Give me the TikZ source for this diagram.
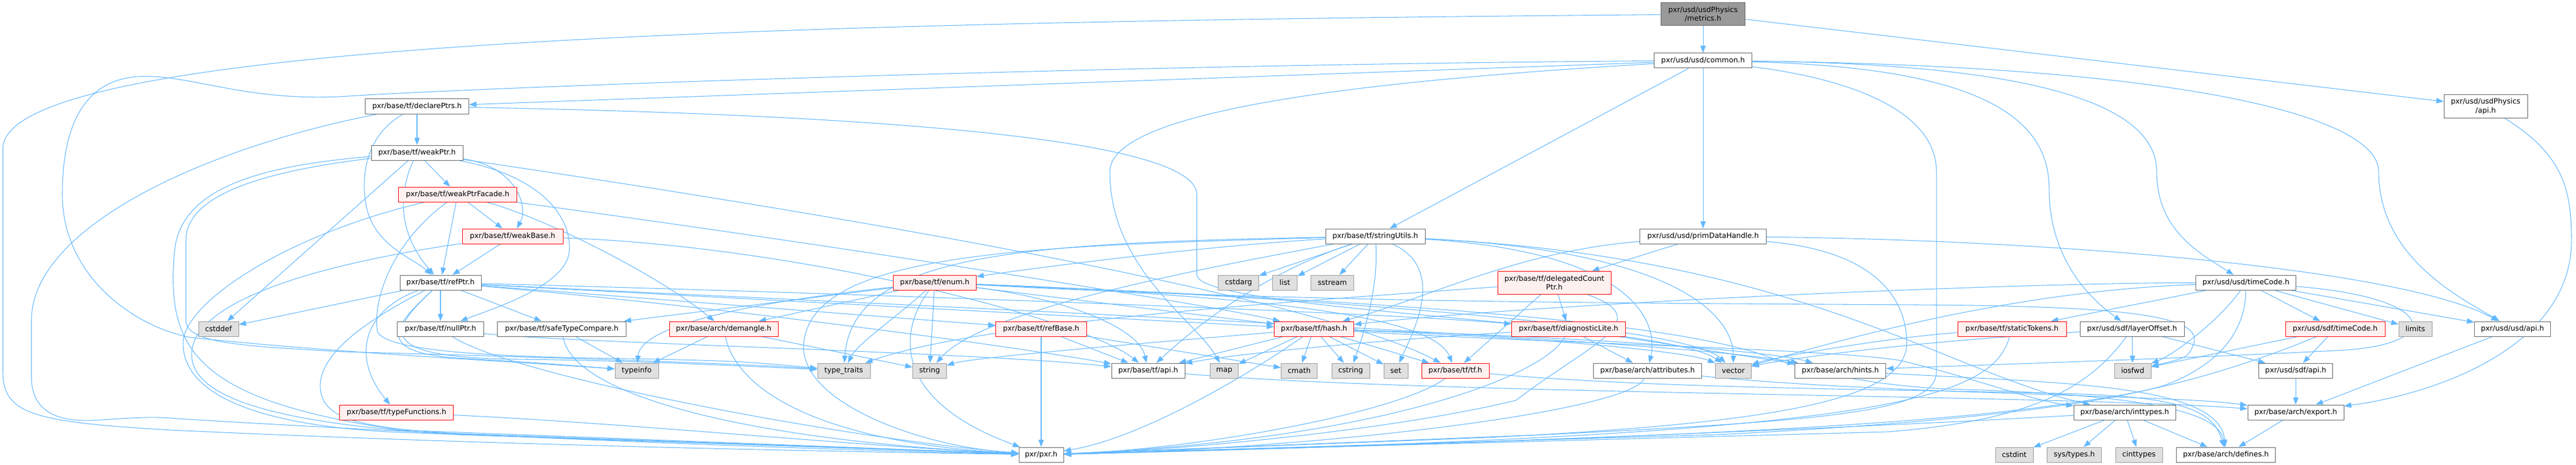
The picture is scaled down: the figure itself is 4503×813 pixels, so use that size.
\documentclass[tikz,border=0pt]{standalone}
\usepackage{fontspec}
\setmainfont{DejaVu Sans}
\usetikzlibrary{arrows.meta,backgrounds}
\definecolor{edgecol}{HTML}{63B8FF}
\definecolor{nodebd}{HTML}{666666}
\definecolor{graybd}{HTML}{999999}
\definecolor{grayfill}{HTML}{E0E0E0}
\definecolor{redbd}{HTML}{FF0000}
\definecolor{redfill}{HTML}{FFF0F0}
\definecolor{rootfill}{HTML}{999999}
\tikzset{
  nd/.style={draw=nodebd, fill=white, line width=0.75pt, minimum height=19.5pt, inner sep=0pt,
    font=\fontsize{9.5}{11.5}\selectfont, text=black},
  rd/.style={nd, draw=redbd, fill=redfill},
  gd/.style={nd, draw=graybd, fill=grayfill},
  rootnd/.style={nd, fill=rootfill, draw=nodebd},
  two/.style={minimum height=30pt, align=center},
  wd/.style={minimum width=#1*0.75pt},
  e/.style={draw=edgecol, line width=0.8pt, -{Triangle[length=9.5pt,width=7pt]}}
}
\begin{document}
\begin{tikzpicture}[x=0.75pt, y=-0.75pt]
\useasboundingbox (0,0) rectangle (4503,813);
% ---------- nodes ----------
\node[rootnd, two, wd=147] (M) at (2977,25) {pxr/usd/usdPhysics\\/metrics.h};
\node[nd, wd=171] (C) at (2977,106) {pxr/usd/usd/common.h};
\node[nd, wd=181] (D) at (729,186) {pxr/base/tf/declarePtrs.h};
\node[nd, two, wd=146] (UP) at (4345,186) {pxr/usd/usdPhysics\\/api.h};
\node[nd, wd=160] (WP) at (729,267) {pxr/base/tf/weakPtr.h};
\node[rd, wd=207] (WF) at (800,340) {pxr/base/tf/weakPtrFacade.h};
\node[rd, wd=176] (WB) at (896,413) {pxr/base/tf/weakBase.h};
\node[nd, wd=174] (SU) at (2404,413) {pxr/base/tf/stringUtils.h};
\node[nd, wd=221] (PD) at (2977,413) {pxr/usd/usd/primDataHandle.h};
\node[nd, wd=142] (RP) at (770,494) {pxr/base/tf/refPtr.h};
\node[rd, wd=145] (EN) at (1634,494) {pxr/base/tf/enum.h};
\node[gd, wd=71] (CA) at (2165,494) {cstdarg};
\node[gd, wd=43] (LI) at (2246,494) {list};
\node[gd, wd=75] (SS) at (2329,494) {sstream};
\node[rd, two, wd=198] (DC) at (2717,494) {pxr/base/tf/delegatedCount\\Ptr.h};
\node[nd, wd=175] (TC) at (3926,494) {pxr/usd/usd/timeCode.h};
\node[gd, wd=70] (CD) at (382,575) {cstddef};
\node[nd, wd=151] (NP) at (770,575) {pxr/base/tf/nullPtr.h};
\node[nd, wd=225] (ST) at (982,575) {pxr/base/tf/safeTypeCompare.h};
\node[rd, wd=190] (DM) at (1265,575) {pxr/base/arch/demangle.h};
\node[rd, wd=159] (RB) at (1820,575) {pxr/base/tf/refBase.h};
\node[rd, wd=139] (HA) at (2297,575) {pxr/base/tf/hash.h};
\node[rd, wd=199] (DL) at (2742,575) {pxr/base/tf/diagnosticLite.h};
\node[rd, wd=190] (TK) at (3517,575) {pxr/base/tf/staticTokens.h};
\node[nd, wd=182] (LO) at (3727,575) {pxr/usd/sdf/layerOffset.h};
\node[rd, wd=174] (STC) at (4082,575) {pxr/usd/sdf/timeCode.h};
\node[gd, wd=58] (LM) at (4222,575) {limits};
\node[nd, wd=133] (UA) at (4392,575) {pxr/usd/usd/api.h};
\node[gd, wd=76] (TI) at (1113,648) {typeinfo};
\node[gd, wd=92] (TT) at (1475,648) {type\_traits};
\node[gd, wd=59] (STR) at (1625,648) {string};
\node[nd, wd=128] (TA) at (2007,648) {pxr/base/tf/api.h};
\node[gd, wd=49] (MP) at (2140,648) {map};
\node[gd, wd=63] (CM) at (2271,648) {cmath};
\node[gd, wd=66] (CS) at (2361,648) {cstring};
\node[gd, wd=42] (SE) at (2440,648) {set};
\node[rd, wd=118] (TF) at (2544,648) {pxr/base/tf/tf.h};
\node[nd, wd=189] (AT) at (2880,648) {pxr/base/arch/attributes.h};
\node[gd, wd=63] (VE) at (3030,648) {vector};
\node[nd, wd=159] (HI) at (3217,648) {pxr/base/arch/hints.h};
\node[gd, wd=64] (IO) at (3728,648) {iosfwd};
\node[nd, wd=129] (SA) at (4013,648) {pxr/usd/sdf/api.h};
\node[rd, wd=199] (TFN) at (693,721) {pxr/base/tf/typeFunctions.h};
\node[nd, wd=178] (IT) at (3714,721) {pxr/base/arch/inttypes.h};
\node[nd, wd=168] (EX) at (4013,721) {pxr/base/arch/export.h};
\node[nd, wd=78] (P) at (1820,795) {pxr/pxr.h};
\node[gd, wd=66] (CI) at (3521,795) {cstdint};
\node[gd, wd=95] (SY) at (3626,795) {sys/types.h};
\node[gd, wd=82] (CT) at (3739,795) {cinttypes};
\node[nd, wd=173] (DF) at (3891,795) {pxr/base/arch/defines.h};
% ---------- edges ----------
\begin{pgfonlayer}{background}
% metrics.h
\draw[e] (M) -- (C);
\draw[e] (M) -- (UP);
\draw[e] (M) .. controls (1400,38) and (5,70) .. (5,260) -- (5,650) .. controls (5,725) and (60,738) .. (300,752) .. controls (900,780) and (1500,790) .. (P);
% usdPhysics/api.h
\draw[e] (UP) .. controls (4480,270) and (4495,330) .. (4495,420) .. controls (4495,610) and (4250,690) .. (EX);
% common.h
\draw[e] (C) -- (D);
\draw[e] (C) .. controls (2000,112) and (900,150) .. (609,168) .. controls (430,180) and (330,128) .. (240,134) .. controls (130,142) and (109,250) .. (109,340) .. controls (109,480) and (230,570) .. (333,590) .. controls (600,618) and (900,632) .. (TI);
\draw[e] (C) .. controls (2500,135) and (1940,180) .. (1940,300) .. controls (1940,470) and (2090,560) .. (MP);
\draw[e] (C) -- (SU);
\draw[e] (C) -- (PD);
\draw[e] (C) .. controls (3250,140) and (3385,200) .. (3385,300) -- (3385,650) .. controls (3385,720) and (3200,735) .. (2700,760) -- (P);
\draw[e] (C) .. controls (3450,118) and (3582,200) .. (3582,330) .. controls (3582,450) and (3650,520) .. (LO);
\draw[e] (C) .. controls (3550,112) and (3770,180) .. (3770,300) .. controls (3770,400) and (3840,440) .. (TC);
\draw[e] (C) .. controls (3800,115) and (4158,200) .. (4158,300) .. controls (4158,450) and (4300,520) .. (UA);
% declarePtrs.h
\draw[e] (D) -- (WP);
\draw[e] (D) .. controls (650,230) and (628,290) .. (640,360) .. controls (655,430) and (720,450) .. (RP);
\draw[e] (D) .. controls (350,260) and (55,400) .. (55,560) -- (55,660) .. controls (55,725) and (110,737) .. (160,735) .. controls (220,732) and (260,727) .. (310,732) .. controls (900,768) and (1500,788) .. (P);
\draw[e] (D) .. controls (1500,200) and (2092,240) .. (2092,340) -- (2092,480) .. controls (2092,545) and (2900,560) .. (VE);
% weakPtr.h
\draw[e] (WP) -- (WF);
\draw[e] (WP) .. controls (900,290) and (925,360) .. (WB);
\draw[e] (WP) .. controls (700,330) and (690,400) .. (RP);
\draw[e] (WP) -- (CD);
\draw[e] (WP) .. controls (960,310) and (1000,390) .. (995,440) .. controls (990,500) and (860,540) .. (NP);
\draw[e] (WP) .. controls (450,290) and (315,330) .. (305,440) .. controls (290,610) and (340,700) .. (700,752) -- (P);
\draw[e] (WP) .. controls (500,295) and (325,330) .. (325,420) -- (325,560) .. controls (325,600) and (420,605) .. (600,615) .. controls (1000,626) and (1300,636) .. (TT);
\draw[e] (WP) .. controls (1500,380) and (2300,520) .. (TF);
% weakPtrFacade.h
\draw[e] (WF) -- (WB);
\draw[e] (WF) -- (RP);
\draw[e] (WF) .. controls (690,420) and (650,520) .. (660,580) .. controls (680,625) and (1000,625) .. (1150,628) .. controls (1300,632) .. (TT);
\draw[e] (WF) .. controls (950,380) and (1150,480) .. (DM);
\draw[e] (WF) .. controls (1400,420) and (2100,530) .. (HA);
\draw[e] (WF) .. controls (500,410) and (320,530) .. (320,600) .. controls (320,690) and (450,745) .. (700,756) -- (P);
% weakBase.h
\draw[e] (WB) -- (RP);
\draw[e] (WB) .. controls (500,470) and (335,540) .. (335,620) .. controls (335,700) and (500,742) .. (800,760) -- (P);
\draw[e] (WB) .. controls (1400,430) and (1900,560) .. (TA);
% refPtr.h
\draw[e] (RP) -- (CD);
\draw[e] (RP) -- (NP);
\draw[e] (RP) -- (ST);
\draw[e] (RP) .. controls (640,540) and (610,620) .. (TFN);
\draw[e] (RP) .. controls (700,560) and (640,615) .. (800,626) .. controls (950,635) .. (TI);
\draw[e] (RP) .. controls (690,570) and (640,625) .. (900,628) .. controls (1100,630) and (1300,640) .. (TT);
\draw[e] (RP) .. controls (640,560) and (555,620) .. (560,680) .. controls (565,730) and (620,748) .. (800,758) -- (P);
\draw[e] (RP) .. controls (1400,510) and (2400,545) .. (DL);
\draw[e] (RP) -- (RB);
\draw[e] (RP) -- (HA);
\draw[e] (RP) .. controls (1300,540) and (1800,610) .. (TA);
\draw[e] (RP) .. controls (1500,530) and (2900,590) .. (HI);
% nullPtr.h
\draw[e] (NP) .. controls (900,660) and (1500,770) .. (P);
\draw[e] (NP) .. controls (1000,600) and (1700,615) .. (TA);
% safeTypeCompare.h
\draw[e] (ST) -- (TI);
\draw[e] (ST) .. controls (1000,690) and (1300,770) .. (P);
% typeFunctions.h
\draw[e] (TFN) .. controls (1100,740) and (1500,780) .. (P);
% enum.h
\draw[e] (EN) -- (DM);
\draw[e] (EN) -- (ST);
\draw[e] (EN) .. controls (1300,530) and (1120,570) .. (TI);
\draw[e] (EN) .. controls (1560,560) and (1500,600) .. (TT);
\draw[e] (EN) -- (STR);
\draw[e] (EN) .. controls (1570,580) and (1560,700) .. (P);
\draw[e] (EN) .. controls (1850,520) and (1990,570) .. (TA);
\draw[e] (EN) -- (HA);
\draw[e] (EN) .. controls (2100,515) and (2500,540) .. (TF);
\draw[e] (EN) .. controls (2300,520) and (2950,570) .. (VE);
\draw[e] (EN) .. controls (2400,525) and (2900,560) .. (3080,620) .. controls (3150,645) and (3250,672) .. (3400,680) .. controls (3800,690) and (3880,730) .. (DF);
\draw[e] (EN) .. controls (2300,530) and (2900,530) .. (3350,533) .. controls (3700,535) and (3850,550) .. (3835,600) .. controls (3825,625) .. (IO);
% demangle.h
\draw[e] (DM) -- (TI);
\draw[e] (DM) -- (STR);
\draw[e] (DM) .. controls (1290,690) and (1450,775) .. (P);
% refBase.h
\draw[e] (RB) -- (P);
\draw[e] (RB) -- (TA);
\draw[e] (RB) -- (CM);
% stringUtils.h
\draw[e] (SU) -- (CA);
\draw[e] (SU) -- (LI);
\draw[e] (SU) -- (SS);
\draw[e] (SU) .. controls (2410,500) and (2385,580) .. (CS);
\draw[e] (SU) .. controls (2530,470) and (2470,580) .. (SE);
\draw[e] (SU) .. controls (2100,430) and (1800,470) .. (EN);
\draw[e] (SU) .. controls (1800,425) and (1490,440) .. (TT);
\draw[e] (SU) .. controls (1800,430) and (1420,440) .. (1405,600) .. controls (1395,700) and (1600,780) .. (P);
\draw[e] (SU) .. controls (2100,470) and (1720,540) .. (STR);
\draw[e] (SU) .. controls (2200,480) and (2080,580) .. (TA);
\draw[e] (SU) .. controls (2850,440) and (2900,560) .. (AT);
\draw[e] (SU) .. controls (2950,440) and (3030,560) .. (VE);
\draw[e] (SU) .. controls (3150,450) and (3400,650) .. (IT);
% primDataHandle.h
\draw[e] (PD) -- (DC);
\draw[e] (PD) .. controls (2650,440) and (2500,520) .. (HA);
\draw[e] (PD) .. controls (3600,420) and (4200,470) .. (UA);
\draw[e] (PD) .. controls (3300,440) and (3333,540) .. (3333,600) .. controls (3333,700) and (3100,740) .. (2600,765) -- (P);
% delegatedCountPtr.h
\draw[e] (DC) -- (DL);
\draw[e] (DC) -- (TF);
\draw[e] (DC) .. controls (2900,560) and (2780,600) .. (2650,700) .. controls (2400,760) and (2000,790) .. (P);
\draw[e] (DC) .. controls (2300,525) and (1720,560) .. (TT);
% hash.h
\draw[e] (HA) -- (CM);
\draw[e] (HA) -- (CS);
\draw[e] (HA) -- (SE);
\draw[e] (HA) -- (TF);
\draw[e] (HA) -- (TA);
\draw[e] (HA) -- (MP);
\draw[e] (HA) .. controls (2000,600) and (1700,625) .. (STR);
\draw[e] (HA) .. controls (2190,650) and (2000,765) .. (P);
\draw[e] (HA) .. controls (2700,590) and (2950,615) .. (VE);
\draw[e] (HA) .. controls (2800,590) and (3100,615) .. (HI);
\draw[e] (HA) .. controls (2700,600) and (3200,610) .. (3320,630) .. controls (3450,660) and (3550,700) .. (IT);
% diagnosticLite.h
\draw[e] (DL) -- (AT);
\draw[e] (DL) .. controls (2700,660) and (2400,770) .. (P);
\draw[e] (DL) -- (HI);
\draw[e] (DL) .. controls (2400,595) and (2150,620) .. (TA);
% tf.h
\draw[e] (TF) .. controls (2450,720) and (2100,785) .. (P);
\draw[e] (TF) .. controls (2900,680) and (3300,680) .. (3600,688) .. controls (3820,692) and (3870,720) .. (DF);
% attributes.h
\draw[e] (AT) .. controls (2850,720) and (2300,785) .. (P);
\draw[e] (AT) .. controls (3300,690) and (3800,690) .. (EX);
% hints.h
\draw[e] (HI) .. controls (3600,670) and (3880,670) .. (DF);
% usd/timeCode.h
\draw[e] (TC) -- (TK);
\draw[e] (TC) .. controls (3880,560) and (3800,620) .. (IO);
\draw[e] (TC) -- (STC);
\draw[e] (TC) -- (LM);
\draw[e] (TC) -- (UA);
\draw[e] (TC) .. controls (3925,600) and (3850,650) .. (3780,675) .. controls (3650,710) and (3400,740) .. (3000,760) -- (P);
\draw[e] (TC) .. controls (4260,520) and (4275,600) .. (4100,612) .. controls (3800,628) and (3400,640) .. (HI);
\draw[e] (TC) .. controls (3500,495) and (2700,530) .. (HA);
\draw[e] (TC) .. controls (3500,510) and (3200,600) .. (VE);
% staticTokens.h
\draw[e] (TK) .. controls (3480,700) and (3300,760) .. (P);
\draw[e] (TK) .. controls (3300,590) and (3100,625) .. (VE);
% layerOffset.h
\draw[e] (LO) .. controls (3300,600) and (3100,632) .. (VE);
\draw[e] (LO) .. controls (3650,680) and (3550,735) .. (3300,755) -- (P);
\draw[e] (LO) -- (IO);
\draw[e] (LO) -- (SA);
% sdf/timeCode.h
\draw[e] (STC) -- (IO);
\draw[e] (STC) .. controls (3950,630) and (3800,680) .. (3650,700) .. controls (3400,740) and (3000,765) .. (P);
\draw[e] (STC) -- (SA);
% api / export
\draw[e] (UA) -- (EX);
\draw[e] (SA) -- (EX);
\draw[e] (EX) -- (DF);
\draw[e] (TA) .. controls (2500,690) and (3600,690) .. (EX);
% inttypes.h
\draw[e] (IT) -- (CI);
\draw[e] (IT) -- (SY);
\draw[e] (IT) -- (CT);
\draw[e] (IT) -- (DF);
\draw[e] (IT) .. controls (3300,745) and (2500,780) .. (P);
\end{pgfonlayer}
\end{tikzpicture}
\end{document}
